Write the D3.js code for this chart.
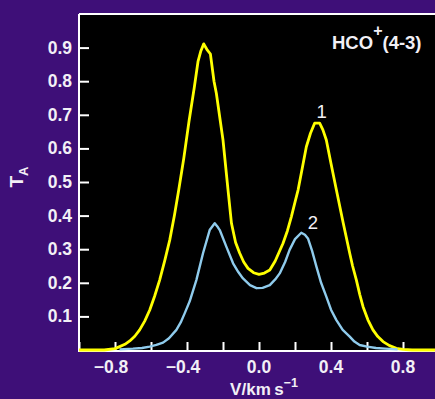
<!DOCTYPE html>
<html>
<head>
<meta charset="utf-8">
<script src="https://cdn.jsdelivr.net/npm/d3@7"></script>
<style>
  html, body { margin: 0; padding: 0; background: #3e0f78; }
  svg { display: block; }
</style>
</head>
<body>
<svg id="chart" width="435" height="399"></svg>
<script>
// ---- data ----
const xTicks = [-1.0, -0.8, -0.6, -0.4, -0.2, 0.0, 0.2, 0.4, 0.6, 0.8, 1.0];
const xTickLabels = ["−0.8", "−0.4", "0.0", "0.4", "0.8"];
const xLabelValues = [-0.8, -0.4, 0.0, 0.4, 0.8];
const yTicks = [0.1, 0.2, 0.3, 0.4, 0.5, 0.6, 0.7, 0.8, 0.9];
const yTickLabels = ["0.1", "0.2", "0.3", "0.4", "0.5", "0.6", "0.7", "0.8", "0.9"];

// Series 1 (yellow)
const v1 = [-1.0, -0.86, -0.80, -0.774, -0.745, -0.718, -0.69, -0.663, -0.635, -0.607, -0.58, -0.552, -0.524, -0.496, -0.47, -0.446, -0.418, -0.389, -0.36, -0.339, -0.323, -0.307, -0.29, -0.27, -0.25, -0.237, -0.2, -0.172, -0.153, -0.13, -0.107, -0.085, -0.061, -0.03, 0.0, 0.03, 0.06, 0.09, 0.133, 0.158, 0.18, 0.2, 0.217, 0.24, 0.263, 0.286, 0.309, 0.337, 0.355, 0.374, 0.4, 0.43, 0.467, 0.504, 0.52, 0.541, 0.56, 0.578, 0.605, 0.633, 0.66, 0.689, 0.725, 0.763, 0.8, 0.85, 1.0];
const t1 = [0.0, 0.0, 0.004, 0.01, 0.017, 0.027, 0.041, 0.06, 0.086, 0.119, 0.16, 0.208, 0.265, 0.327, 0.40, 0.476, 0.57, 0.68, 0.78, 0.858, 0.89, 0.911, 0.895, 0.881, 0.80, 0.764, 0.625, 0.476, 0.377, 0.32, 0.288, 0.262, 0.243, 0.23, 0.225, 0.229, 0.238, 0.265, 0.317, 0.355, 0.397, 0.44, 0.476, 0.54, 0.605, 0.645, 0.675, 0.675, 0.655, 0.625, 0.555, 0.476, 0.38, 0.288, 0.25, 0.208, 0.165, 0.129, 0.09, 0.06, 0.04, 0.025, 0.013, 0.005, 0.002, 0.0, 0.0];

// Series 2 (light blue)
const v2 = [-0.775, -0.70, -0.65, -0.607, -0.57, -0.533, -0.5, -0.459, -0.435, -0.413, -0.385, -0.348, -0.311, -0.274, -0.246, -0.228, -0.218, -0.181, -0.144, -0.115, -0.089, -0.05, -0.014, 0.02, 0.06, 0.09, 0.115, 0.145, 0.17, 0.2, 0.235, 0.255, 0.272, 0.295, 0.319, 0.345, 0.374, 0.40, 0.43, 0.465, 0.504, 0.53, 0.559, 0.6, 0.65, 0.70, 0.77];
const t2 = [0.002, 0.004, 0.006, 0.01, 0.015, 0.022, 0.035, 0.06, 0.082, 0.109, 0.145, 0.208, 0.288, 0.357, 0.377, 0.365, 0.357, 0.307, 0.258, 0.232, 0.213, 0.193, 0.184, 0.185, 0.193, 0.21, 0.228, 0.262, 0.298, 0.33, 0.349, 0.343, 0.332, 0.295, 0.248, 0.2, 0.159, 0.12, 0.089, 0.06, 0.04, 0.025, 0.015, 0.01, 0.006, 0.004, 0.002];

const seriesLabels = ["1", "2"];
const lineLabel = "HCO";

// ---- layout ----
const svg = d3.select("#chart");
const x = d3.scaleLinear().domain([-1, 1]).range([79, 439]);
const y = d3.scaleLinear().domain([0, 1]).range([350, 14]);
const fg = "#f2f0f6";
const tickFont = "'Liberation Sans', Arial, sans-serif";

// plot background
svg.append("rect")
  .attr("x", x(-1)).attr("y", y(1))
  .attr("width", x(1) - x(-1)).attr("height", y(0) - y(1))
  .attr("fill", "#000");

// frame
const frame = svg.append("g").attr("stroke", "#fff").attr("stroke-width", 2).attr("fill", "none");
frame.append("line").attr("x1", x(-1)).attr("x2", x(1)).attr("y1", y(1)).attr("y2", y(1));
frame.append("line").attr("x1", x(-1)).attr("x2", x(-1)).attr("y1", y(1)).attr("y2", y(0) + 1);
frame.append("line").attr("x1", x(-1) - 1).attr("x2", x(1)).attr("y1", y(0) + 1).attr("y2", y(0) + 1);

// x axis ticks (inside)
const xAxis = d3.axisTop(x).tickValues(xTicks).tickSize(8).tickFormat("");
const gx = svg.append("g").attr("transform", `translate(0,${y(0)})`).call(xAxis);
gx.select(".domain").remove();
gx.selectAll(".tick line").attr("stroke", "#fff").attr("stroke-width", 2);

// x tick labels
svg.append("g").selectAll("text")
  .data(xLabelValues)
  .join("text")
  .attr("x", (d) => x(d) + (d < 0 ? -4 : 0))
  .attr("y", 373)
  .attr("text-anchor", "middle")
  .attr("fill", fg)
  .attr("font-family", tickFont)
  .attr("font-weight", "bold")
  .attr("font-size", 17.5)
  .text((d, i) => xTickLabels[i]);

// y axis ticks (inside)
const yAxis = d3.axisRight(y).tickValues(yTicks).tickSize(10).tickFormat("");
const gy = svg.append("g").attr("transform", `translate(${x(-1)},0)`).call(yAxis);
gy.select(".domain").remove();
gy.selectAll(".tick line").attr("stroke", "#fff").attr("stroke-width", 2);

// y tick labels
svg.append("g").selectAll("text")
  .data(yTicks)
  .join("text")
  .attr("x", 72)
  .attr("y", (d) => y(d) + 6)
  .attr("text-anchor", "end")
  .attr("fill", fg)
  .attr("font-family", tickFont)
  .attr("font-weight", "bold")
  .attr("font-size", 17.5)
  .text((d, i) => yTickLabels[i]);

// curves
const line = d3.line().x((d) => x(d[0])).y((d) => y(d[1])).curve(d3.curveLinear);
const d1 = v1.map((v, i) => [v, t1[i]]);
const d2 = v2.map((v, i) => [v, t2[i]]);
svg.append("path").datum(d1).attr("d", line)
  .attr("fill", "none").attr("stroke", "#ffff00").attr("stroke-width", 2.8)
  .attr("stroke-linejoin", "round");
svg.append("path").datum(d2).attr("d", line)
  .attr("fill", "none").attr("stroke", "#8fcbec").attr("stroke-width", 2.4)
  .attr("stroke-linejoin", "round");

// series labels
svg.append("text").attr("x", x(0.348)).attr("y", 118)
  .attr("text-anchor", "middle").attr("fill", fg)
  .attr("font-family", tickFont).attr("font-size", 18.5)
  .text(seriesLabels[0]);
svg.append("text").attr("x", x(0.3)).attr("y", 229)
  .attr("text-anchor", "middle").attr("fill", fg)
  .attr("font-family", tickFont).attr("font-size", 18.5)
  .text(seriesLabels[1]);

// line label HCO+(4-3)
const hl = svg.append("text").attr("x", 332).attr("y", 49)
  .attr("fill", fg)
  .attr("font-family", "'Liberation Sans Narrow', 'Liberation Sans', sans-serif")
  .attr("font-weight", "bold")
  .attr("font-size", 18.5);
hl.append("tspan").text(lineLabel);
hl.append("tspan").attr("dy", -13).attr("font-size", 16).text("+");
hl.append("tspan").attr("dy", 13).text("(4-3)");

// x axis title
const xt = svg.append("text").attr("x", 264).attr("y", 395)
  .attr("text-anchor", "middle").attr("fill", fg)
  .attr("font-family", tickFont).attr("font-weight", "bold").attr("font-size", 17);
xt.append("tspan").text("V/km\u2009s");
xt.append("tspan").attr("dy", -8).attr("font-size", 12.5).text("−1");

// y axis title
const yt = svg.append("text")
  .attr("transform", "translate(23,177) rotate(-90)")
  .attr("text-anchor", "middle").attr("fill", fg)
  .attr("font-family", tickFont).attr("font-weight", "bold").attr("font-size", 19);
yt.append("tspan").text("T");
yt.append("tspan").attr("dy", 5).attr("font-size", 13).text("A");
</script>
</body>
</html>
